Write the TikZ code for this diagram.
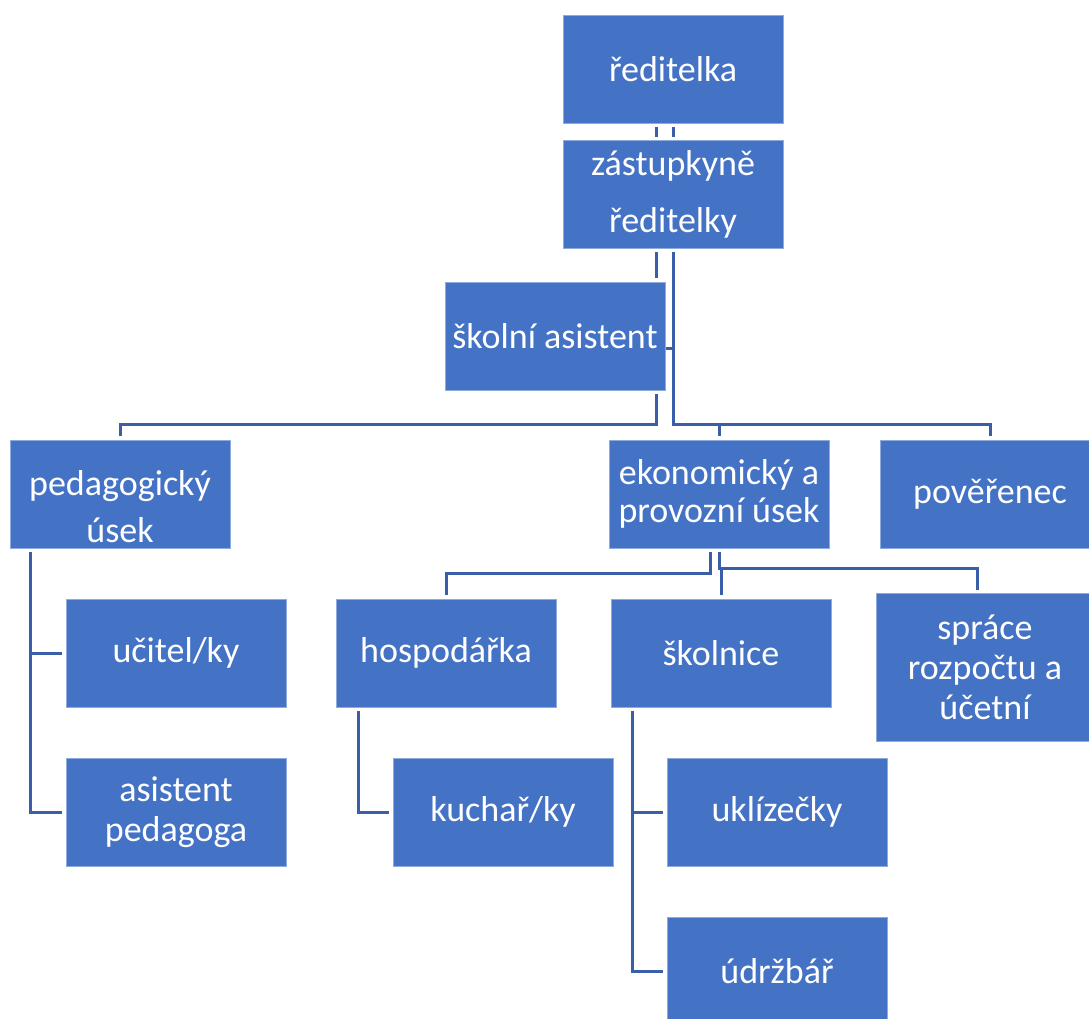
\documentclass[tikz,border=0pt]{standalone}
\usepackage{fontspec}
\setmainfont{Carlito}
\usetikzlibrary{calc}
\definecolor{boxblue}{HTML}{4472C4}
\definecolor{lineblue}{HTML}{3A5FA8}
\definecolor{edgeblue}{HTML}{8FAADC}
\begin{document}
\begin{tikzpicture}[x=1pt,y=-1pt,
  box/.style={fill=boxblue, draw=edgeblue, line width=0.6pt, text=white,
    minimum width=220pt, minimum height=108pt, inner sep=0pt, align=center,
    font=\fontsize{36}{40}\selectfont},
  conn/.style={draw=lineblue, line width=3pt}]
\useasboundingbox (0,0) rectangle (1089,1019);

% boxes
\node[box] (red) at (673,69) {ředitelka};
\node[box, font=\fontsize{36}{57}\selectfont] (zast) at (673,194) {zástupkyně\\ředitelky};
\node[box] (skas) at (555,336) {školní asistent};
\node[box, font=\fontsize{36}{47}\selectfont] (ped) at (120,494) {\rule{0pt}{50pt}pedagogický\\úsek};
\node[box, font=\fontsize{36}{38}\selectfont] (eko) at (719,494) {ekonomický a\\provozní úsek};
\node[box] (pov) at (990,494) {pověřenec};
\node[box] (uc) at (176,653) {učitel/ky};
\node[box] (asp) at (176,812) {asistent\\pedagoga};
\node[box] (hosp) at (446,653) {hospodářka};
\node[box] (skol) at (721,653) {školnice};
\node[box, minimum width=218pt, minimum height=148pt] (spr) at (985,667) {spráce\\rozpočtu a\\účetní};
\node[box] (kuch) at (503,812) {kuchař/ky};
\node[box] (ukl) at (777,812) {uklízečky};
\node[box] (udr) at (777,971) {údržbář};

% x / y positions of the trunks
\coordinate (xa) at (656,0);
\coordinate (xb) at (673,0);
\coordinate (ya) at (0,424);
\coordinate (ye) at (0,573);
\coordinate (yf) at (0,568);
\coordinate (xe) at (710,0);
\coordinate (xf) at (719,0);
\coordinate (xr) at (977,0);
\coordinate (xp) at (30,0);
\coordinate (xh) at (358,0);
\coordinate (xs) at (632,0);

% connectors top
\draw[conn] ([yshift=-4pt]red.south -| xa) -- ([yshift=3pt]zast.north -| xa);
\draw[conn] ([yshift=-4pt]red.south -| xb) -- ([yshift=3pt]zast.north -| xb);
\draw[conn] ([yshift=-4pt]zast.south -| xa) -- ([yshift=4pt]skas.north -| xa);
\draw[conn] ([yshift=-4pt]skas.south -| xa) |- (ya -| ped.north) -- ([yshift=4pt]ped.north);
\draw[conn] ([yshift=-4pt]zast.south -| xb) |- (ya -| pov.north) -- ([yshift=4pt]pov.north);
\draw[conn] (ya -| eko.north) -- ([yshift=4pt]eko.north);
\draw[conn] ([xshift=1pt]skas.east |- 0,348) -- (xb |- 0,348);

% pedagogicky usek
\draw[conn] ([yshift=-4pt]ped.south -| xp) |- ([xshift=-4pt]asp.west);
\draw[conn] (xp |- uc.west) -- ([xshift=-4pt]uc.west);

% ekonomicky usek
\draw[conn] ([yshift=-4pt]eko.south -| xe) |- (ye -| hosp.north) -- ([yshift=4pt]hosp.north);
\draw[conn] ([yshift=-4pt]eko.south -| xf) |- (yf -| xr) -- ([yshift=3pt]spr.north -| xr);
\draw[conn] (yf -| skol.north) -- ([yshift=4pt]skol.north);

% hospodarka
\draw[conn] ([yshift=-4pt]hosp.south -| xh) |- ([xshift=-4pt]kuch.west);

% skolnice
\draw[conn] ([yshift=-4pt]skol.south -| xs) |- ([xshift=-4pt]udr.west);
\draw[conn] (xs |- ukl.west) -- ([xshift=-4pt]ukl.west);
\end{tikzpicture}
\end{document}
